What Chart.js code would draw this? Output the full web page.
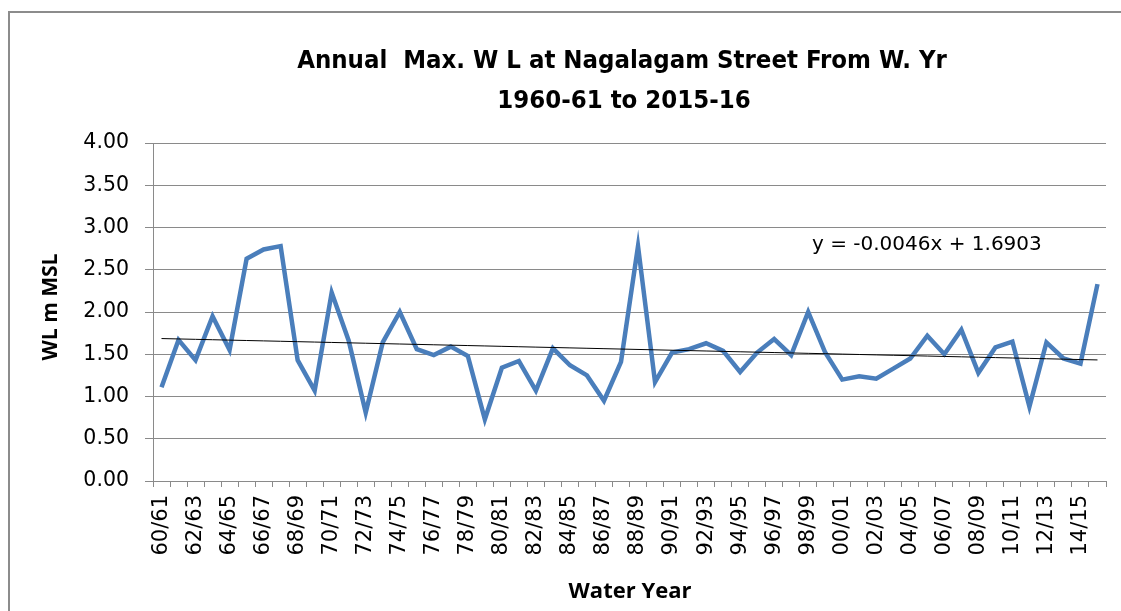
<!DOCTYPE html>
<html>
<head>
<meta charset="utf-8">
<script src="https://cdn.jsdelivr.net/npm/chart.js@4.4.1/dist/chart.umd.min.js"></script>
<style>
  html, body { margin: 0; padding: 0; background: #ffffff; }
  #wrap { width: 1121px; height: 611px; position: relative; }
</style>
</head>
<body>
<div id="wrap"><canvas id="chart" width="1121" height="611"></canvas></div>
<script>
// Water years 1960-61 .. 2015-16
const waterYears = [
  '60/61','61/62','62/63','63/64','64/65','65/66','66/67','67/68','68/69','69/70',
  '70/71','71/72','72/73','73/74','74/75','75/76','76/77','77/78','78/79','79/80',
  '80/81','81/82','82/83','83/84','84/85','85/86','86/87','87/88','88/89','89/90',
  '90/91','91/92','92/93','93/94','94/95','95/96','96/97','97/98','98/99','99/00',
  '00/01','01/02','02/03','03/04','04/05','05/06','06/07','07/08','08/09','09/10',
  '10/11','11/12','12/13','13/14','14/15','15/16'
];

// Annual maximum water level (m MSL)
const annualMaxWL = [
  1.11, 1.67, 1.43, 1.95, 1.55, 2.63, 2.74, 2.78, 1.43, 1.07,
  2.23, 1.66, 0.81, 1.64, 2.00, 1.56, 1.49, 1.59, 1.48, 0.73,
  1.34, 1.42, 1.07, 1.57, 1.37, 1.25, 0.95, 1.41, 2.78, 1.17,
  1.52, 1.56, 1.63, 1.54, 1.29, 1.52, 1.68, 1.49, 2.00, 1.52,
  1.20, 1.24, 1.21, 1.33, 1.45, 1.72, 1.50, 1.79, 1.28, 1.58,
  1.65, 0.88, 1.64, 1.45, 1.39, 2.33
];

// Linear trend as stated in the equation label (x = 1, 2, ... n)
const trendSlope = -0.0046;
const trendIntercept = 1.6903;
const trendValues = waterYears.map((_, i) => trendIntercept + trendSlope * (i + 1));

const yTicks = [0, 0.5, 1, 1.5, 2, 2.5, 3, 3.5, 4];

const chartTitle = ['Annual  Max. W L at Nagalagam Street From W. Yr', '1960-61 to 2015-16'];
const xTitle = 'Water Year';
const yTitle = 'WL m MSL';
const equationText = 'y = -0.0046x + 1.6903';

const TEXT = '#000000';
const GRID = '#8a8a8a';
const TICK_FONT = "'DejaVu Sans', sans-serif";

const decorations = {
  id: 'decorations',
  afterDraw(chart) {
    const ctx = chart.ctx;
    ctx.save();
    // outer frame
    ctx.strokeStyle = '#8c8c8c';
    ctx.lineWidth = 2;
    ctx.beginPath();
    ctx.moveTo(9, 611);
    ctx.lineTo(9, 12);
    ctx.lineTo(1121, 12);
    ctx.stroke();

    // title
    ctx.fillStyle = TEXT;
    ctx.textAlign = 'center';
    ctx.textBaseline = 'middle';
    ctx.font = "bold 25.5px 'DejaVu Sans Condensed', sans-serif";
    ctx.fillText(chartTitle[0], 622, 61);
    ctx.fillText(chartTitle[1], 624, 101);

    // axis titles
    ctx.font = "bold 22px 'Open Sans', sans-serif";
    ctx.fillText(xTitle, 630, 592);
    ctx.save();
    ctx.translate(51, 307);
    ctx.rotate(-Math.PI / 2);
    ctx.font = "bold 21px 'Open Sans', sans-serif";
    ctx.fillText(yTitle, 0, 0);
    ctx.restore();

    // trend equation
    ctx.font = "20px " + TICK_FONT;
    ctx.textAlign = 'left';
    ctx.fillText(equationText, 812, 245);
    ctx.restore();
  }
};

new Chart(document.getElementById('chart'), {
  type: 'line',
  data: {
    labels: waterYears,
    datasets: [
      {
        label: 'Annual Max. WL',
        data: annualMaxWL,
        borderColor: '#4a7ebb',
        borderWidth: 4.5,
        pointRadius: 0,
        tension: 0,
        fill: false,
        order: 2
      },
      {
        label: 'Linear trend',
        data: trendValues,
        borderColor: '#000000',
        borderWidth: 1,
        pointRadius: 0,
        tension: 0,
        fill: false,
        order: 1
      }
    ]
  },
  options: {
    responsive: false,
    animation: false,
    devicePixelRatio: 1,
    layout: { padding: { top: 143, right: 15, bottom: 0, left: 0 } },
    plugins: {
      legend: { display: false },
      title: { display: false },
      tooltip: { enabled: false }
    },
    scales: {
      x: {
        type: 'category',
        offset: true,
        grid: {
          offset: true,
          drawOnChartArea: false,
          drawTicks: true,
          tickLength: 6,
          color: GRID
        },
        border: { display: true, color: GRID, width: 1 },
        ticks: {
          autoSkip: false,
          minRotation: 90,
          maxRotation: 90,
          padding: 8,
          color: TEXT,
          font: { family: TICK_FONT, size: 21 },
          callback: (v, i) => (i % 2 === 0 ? waterYears[i] : '')
        },
        afterFit: (scale) => {
          scale.height = 130;
          scale.paddingLeft = 0;
          scale.paddingRight = 0;
        }
      },
      y: {
        min: 0,
        max: 4,
        afterBuildTicks: (scale) => { scale.ticks = yTicks.map(v => ({ value: v })); },
        grid: {
          color: GRID,
          lineWidth: 1,
          drawTicks: true,
          tickLength: 8
        },
        border: { display: true, color: GRID, width: 1 },
        ticks: {
          padding: 16,
          color: TEXT,
          font: { family: TICK_FONT, size: 20.5 },
          callback: (v) => Number(v).toFixed(2)
        },
        afterFit: (scale) => {
          scale.width = 153;
          scale.paddingTop = 0;
          scale.paddingBottom = 0;
        }
      }
    }
  },
  plugins: [decorations]
});
</script>
</body>
</html>
